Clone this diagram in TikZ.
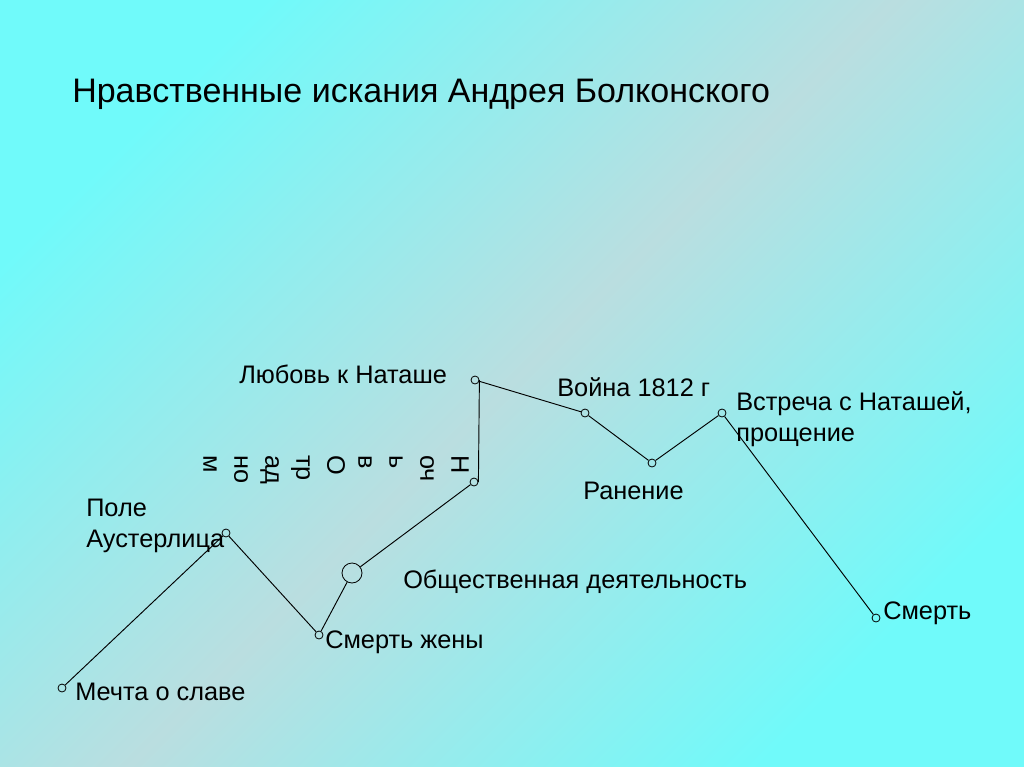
\documentclass[tikz,border=0pt]{standalone}
\usepackage{fontspec}
\setmainfont{Liberation Sans}
\usetikzlibrary{positioning}
\definecolor{cyanbg}{RGB}{112,250,250}
\definecolor{greybg}{RGB}{186,222,224}

\begin{document}
\begin{tikzpicture}[
  x=0.75pt, y=-0.75pt,
  dot/.style={draw, circle, minimum size=6pt, inner sep=0pt, line width=0.6pt},
  bigdot/.style={dot, minimum size=15pt},
  link/.style={line width=0.7pt},
  lbl/.style={anchor=base west, inner sep=0pt, align=left, font=\fontsize{19}{23.25}\selectfont}
]
  % background
  \fill[top color=cyanbg, bottom color=cyanbg, middle color=greybg, shading angle=45]
    (0,0) rectangle (1024,767);
  \useasboundingbox (0,0) rectangle (1024,767);

  \node[lbl, font=\fontsize{25.5}{30}\selectfont] (title) at (72,103)
    {Нравственные искания Андрея Болконского};

  % points of the path
  \node[dot] (dream) at (62,688) {};
  \node[dot] (auster) at (226,533) {};
  \node[dot] (wife) at (319,635) {};
  \node[bigdot] (social) at (352,573) {};
  \node[dot] (night) at (474,482) {};
  \node[dot] (love) at (475,380) {};
  \node[dot] (war) at (585,413) {};
  \node[dot] (wound) at (652,463) {};
  \node[dot] (meet) at (722,413) {};
  \node[dot] (death) at (876,618) {};

  % labels
  \node[lbl] (tdream) at (75,700) {Мечта о славе};
  \node[lbl] (tauster) at (86,547) {Поле\\Аустерлица};
  \node[lbl] (twife) at (325,648) {Смерть жены};
  \node[lbl] (tsocial) at (403,588) {Общественная деятельность};
  \node[lbl, rotate=-90, anchor=north west] (tnight) at (469,455)
    {Н\\оч\\ь\\в\\О\\тр\\ад\\но\\м};
  \node[lbl] (tlove) at (239,383) {Любовь к Наташе};
  \node[lbl] (twar) at (557,396) {Война 1812 г};
  \node[lbl] (twound) at (583,499) {Ранение};
  \node[lbl] (tmeet) at (736,441) {Встреча с Наташей,\\прощение};
  \node[lbl] (tdeath) at (883,619) {Смерть};

  % the line
  \draw[link] (dream) -- (auster);
  \draw[link] (auster) -- (wife);
  \draw[link] (wife) -- (social);
  \draw[link] (social) -- (night);
  \draw[link] (night.east) -- (love.east);
  \draw[link] (love) -- (war);
  \draw[link] (war) -- (wound);
  \draw[link] (wound) -- (meet);
  \draw[link] (meet) -- (death);
\end{tikzpicture}
\end{document}
